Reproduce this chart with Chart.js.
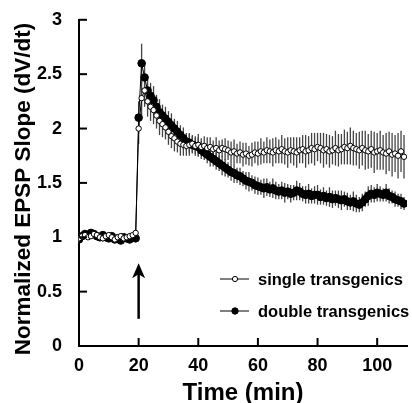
<!DOCTYPE html>
<html lang="en">

<head>
    <meta charset="UTF-8">
    <title>EPSP Slope</title>
    <script src="https://cdn.jsdelivr.net/npm/chart.js"></script>
    <style>
        body { margin: 0; background: #fff; }
        #grafico { display: block; }
    </style>
</head>

<body>
    <canvas id="grafico" width="412" height="403"></canvas>
</body>

</html>

<script>

    // tempo (min)
    var tempos = [
        0, 1, 2, 3, 4, 5, 6, 7, 8, 9,
        10, 11, 12, 13, 14, 15, 16, 17, 18, 19,
        20, 21, 22, 23, 24, 25, 26, 27, 28, 29,
        30, 31, 32, 33, 34, 35, 36, 37, 38, 39,
        40, 41, 42, 43, 44, 45, 46, 47, 48, 49,
        50, 51, 52, 53, 54, 55, 56, 57, 58, 59,
        60, 61, 62, 63, 64, 65, 66, 67, 68, 69,
        70, 71, 72, 73, 74, 75, 76, 77, 78, 79,
        80, 81, 82, 83, 84, 85, 86, 87, 88, 89,
        90, 91, 92, 93, 94, 95, 96, 97, 98, 99,
        100, 101, 102, 103, 104, 105, 106, 107, 108, 109
    ];

    // single transgenics
    var single = [
        0.99, 1.01, 1.02, 1.00, 1.01, 1.03, 1.02, 1.00, 0.99, 1.01,
        1.02, 1.00, 0.98, 1.00, 1.01, 0.99, 1.00, 1.01, 1.02, 1.04,
        2.00, 2.28, 2.35, 2.25, 2.20, 2.17, 2.12, 2.07, 2.04, 2.01,
        1.97, 1.93, 1.91, 1.88, 1.86, 1.85, 1.84, 1.85, 1.86, 1.84,
        1.85, 1.83, 1.84, 1.82, 1.83, 1.81, 1.82, 1.80, 1.82, 1.81,
        1.80, 1.78, 1.79, 1.77, 1.78, 1.76, 1.77, 1.75, 1.76, 1.78,
        1.77, 1.79, 1.78, 1.80, 1.79, 1.78, 1.80, 1.79, 1.81, 1.79,
        1.78, 1.80, 1.79, 1.78, 1.80, 1.81, 1.79, 1.80, 1.82, 1.81,
        1.83, 1.82, 1.80, 1.81, 1.79, 1.80, 1.82, 1.80, 1.81, 1.83,
        1.82, 1.84, 1.82, 1.81, 1.80, 1.82, 1.80, 1.79, 1.81, 1.78,
        1.79, 1.80, 1.78, 1.77, 1.79, 1.76, 1.77, 1.75, 1.79, 1.74
    ];
    var singleErro = [
        0.02, 0.02, 0.03, 0.02, 0.02, 0.03, 0.02, 0.02, 0.03, 0.02,
        0.02, 0.03, 0.02, 0.02, 0.03, 0.02, 0.02, 0.03, 0.02, 0.03,
        0.14, 0.16, 0.15, 0.14, 0.13, 0.13, 0.12, 0.13, 0.12, 0.11,
        0.12, 0.11, 0.12, 0.10, 0.11, 0.10, 0.09, 0.10, 0.08, 0.09,
        0.10, 0.08, 0.09, 0.10, 0.09, 0.08, 0.10, 0.09, 0.08, 0.10,
        0.09, 0.10, 0.11, 0.09, 0.10, 0.11, 0.10, 0.09, 0.11, 0.10,
        0.11, 0.12, 0.10, 0.12, 0.11, 0.13, 0.12, 0.11, 0.13, 0.12,
        0.14, 0.12, 0.13, 0.14, 0.12, 0.13, 0.15, 0.13, 0.14, 0.15,
        0.13, 0.14, 0.16, 0.14, 0.15, 0.13, 0.16, 0.15, 0.14, 0.16,
        0.15, 0.17, 0.16, 0.15, 0.17, 0.16, 0.18, 0.16, 0.17, 0.19,
        0.17, 0.18, 0.16, 0.19, 0.18, 0.20, 0.17, 0.21, 0.19, 0.20
    ];

    // double transgenics
    var double = [
        0.98, 1.01, 1.03, 1.02, 1.04, 1.03, 1.01, 1.00, 1.02, 1.00,
        0.99, 1.01, 0.98, 0.99, 0.97, 1.00, 0.99, 0.98, 1.00, 0.99,
        2.10, 2.60, 2.47, 2.35, 2.30, 2.26, 2.20, 2.15, 2.12, 2.09,
        2.06, 2.03, 2.00, 1.97, 1.94, 1.91, 1.88, 1.87, 1.85, 1.84,
        1.83, 1.80, 1.78, 1.76, 1.74, 1.72, 1.70, 1.68, 1.66, 1.64,
        1.62, 1.60, 1.59, 1.57, 1.56, 1.54, 1.52, 1.51, 1.50, 1.48,
        1.47, 1.46, 1.45, 1.46, 1.44, 1.45, 1.43, 1.42, 1.43, 1.41,
        1.42, 1.40, 1.41, 1.43, 1.42, 1.40, 1.39, 1.40, 1.38, 1.39,
        1.39, 1.37, 1.38, 1.36, 1.37, 1.35, 1.36, 1.35, 1.34, 1.35,
        1.33, 1.32, 1.33, 1.31, 1.30, 1.32, 1.35, 1.38, 1.40, 1.39,
        1.41, 1.40, 1.39, 1.41, 1.38, 1.37, 1.35, 1.34, 1.33, 1.31
    ];
    var doubleErro = [
        0.03, 0.02, 0.03, 0.03, 0.02, 0.03, 0.02, 0.03, 0.02, 0.03,
        0.02, 0.03, 0.03, 0.02, 0.03, 0.02, 0.03, 0.03, 0.02, 0.03,
        0.15, 0.18, 0.14, 0.13, 0.12, 0.13, 0.11, 0.12, 0.10, 0.11,
        0.10, 0.11, 0.09, 0.10, 0.09, 0.10, 0.08, 0.09, 0.08, 0.07,
        0.09, 0.08, 0.07, 0.08, 0.09, 0.07, 0.08, 0.07, 0.09, 0.08,
        0.07, 0.08, 0.09, 0.07, 0.08, 0.07, 0.08, 0.09, 0.07, 0.08,
        0.08, 0.07, 0.09, 0.08, 0.07, 0.09, 0.08, 0.07, 0.08, 0.09,
        0.07, 0.08, 0.07, 0.09, 0.08, 0.07, 0.08, 0.09, 0.07, 0.08,
        0.09, 0.07, 0.08, 0.07, 0.09, 0.08, 0.07, 0.08, 0.09, 0.07,
        0.08, 0.07, 0.09, 0.08, 0.07, 0.08, 0.07, 0.09, 0.08, 0.07,
        0.08, 0.07, 0.06, 0.08, 0.07, 0.06, 0.07, 0.06, 0.07, 0.06
    ];

    var xTicks = [0, 20, 40, 60, 80, 100];
    var yTicks = [0, 0.5, 1, 1.5, 2, 2.5, 3];

    // seta do estimulo (tempo, inicio, fim)
    var setaTempo = 20;
    var setaDe = 0.25;
    var setaAte = 0.76;

    var nomes = ['single transgenics', 'double transgenics'];
    var tituloX = 'Time (min)';
    var tituloY = 'Normalized EPSP Slope (dV/dt)';

    var fonte = "'Liberation Sans', Arial, sans-serif";
    Chart.defaults.font.family = fonte;
    Chart.defaults.color = '#000';

    function pontos(valores) {
        return tempos.map(function (t, i) { return { x: t, y: valores[i] }; });
    }

    // barras de erro, atras dos pontos
    const barrasErro = {
        id: 'barrasErro',
        beforeDatasetsDraw(chart) {
            const ctx = chart.ctx;
            const y = chart.scales.y;
            const erros = [singleErro, doubleErro];
            ctx.save();
            ctx.strokeStyle = '#444';
            ctx.lineWidth = 1.3;
            chart.data.datasets.forEach(function (ds, d) {
                const meta = chart.getDatasetMeta(d);
                meta.data.forEach(function (p, i) {
                    const v = ds.data[i].y;
                    ctx.beginPath();
                    ctx.moveTo(p.x, y.getPixelForValue(v - erros[d][i]));
                    ctx.lineTo(p.x, y.getPixelForValue(v + erros[d][i]));
                    ctx.stroke();
                });
            });
            ctx.restore();
        }
    };

    // ticks para dentro, titulos, seta e legenda
    const extras = {
        id: 'extras',
        afterDraw(chart) {
            const ctx = chart.ctx;
            const x = chart.scales.x;
            const y = chart.scales.y;
            const area = chart.chartArea;
            ctx.save();
            ctx.strokeStyle = '#000';
            ctx.fillStyle = '#000';
            ctx.lineWidth = 2;
            xTicks.forEach(function (v) {
                const px = x.getPixelForValue(v);
                ctx.beginPath();
                ctx.moveTo(px, area.bottom);
                ctx.lineTo(px, area.bottom - 8);
                ctx.stroke();
            });
            yTicks.forEach(function (v) {
                const py = y.getPixelForValue(v);
                ctx.beginPath();
                ctx.moveTo(area.left, py);
                ctx.lineTo(area.left + 8, py);
                ctx.stroke();
            });

            // titulos dos eixos
            ctx.textAlign = 'center';
            ctx.textBaseline = 'alphabetic';
            ctx.font = 'bold 24px ' + fonte;
            ctx.fillText(tituloX, (area.left + area.right) / 2, 400);
            ctx.save();
            ctx.translate(30, 189);
            ctx.rotate(-Math.PI / 2);
            ctx.font = 'bold 22.5px ' + fonte;
            ctx.fillText(tituloY, 0, 0);
            ctx.restore();

            // seta
            const sx = x.getPixelForValue(setaTempo);
            const sTopo = y.getPixelForValue(setaAte);
            const sBase = y.getPixelForValue(setaDe);
            ctx.lineWidth = 2.5;
            ctx.beginPath();
            ctx.moveTo(sx, sBase);
            ctx.lineTo(sx, sTopo + 10);
            ctx.stroke();
            ctx.beginPath();
            ctx.moveTo(sx, sTopo);
            ctx.lineTo(sx - 6.5, sTopo + 15);
            ctx.lineTo(sx, sTopo + 11);
            ctx.lineTo(sx + 6.5, sTopo + 15);
            ctx.closePath();
            ctx.fill();

            // legenda
            const linhas = [279, 311];
            ctx.font = 'bold 16.5px ' + fonte;
            ctx.textAlign = 'left';
            ctx.textBaseline = 'middle';
            linhas.forEach(function (ly, i) {
                ctx.lineWidth = 1;
                ctx.beginPath();
                ctx.moveTo(220, ly);
                ctx.lineTo(249, ly);
                ctx.stroke();
                ctx.beginPath();
                ctx.arc(235, ly, i == 0 ? 2.6 : 3.2, 0, Math.PI * 2);
                ctx.fillStyle = i == 0 ? '#fff' : '#000';
                ctx.fill();
                ctx.stroke();
                ctx.fillStyle = '#000';
                ctx.fillText(nomes[i], 258, ly + 1);
            });
            ctx.restore();
        }
    };

    const config = {
        type: 'line',
        data: {
            datasets: [{
                label: nomes[0],
                data: pontos(single),
                borderColor: '#000',
                borderWidth: 1,
                pointRadius: 2.7,
                pointBackgroundColor: '#fff',
                pointBorderColor: '#000',
                pointBorderWidth: 1,
                tension: 0
            }, {
                label: nomes[1],
                data: pontos(double),
                borderColor: '#000',
                borderWidth: 1,
                pointRadius: 3.8,
                pointBackgroundColor: '#000',
                pointBorderColor: '#000',
                pointBorderWidth: 1,
                tension: 0
            }]
        },
        options: {
            responsive: false,
            animation: false,
            layout: { padding: { top: 19, right: 3, left: 0, bottom: 0 } },
            plugins: {
                legend: { display: false },
                tooltip: { enabled: false }
            },
            scales: {
                x: {
                    type: 'linear',
                    min: 0,
                    max: 110,
                    afterBuildTicks: function (s) { s.ticks = xTicks.map(function (v) { return { value: v }; }); },
                    afterFit: function (s) { s.height = 57; },
                    grid: { display: false },
                    border: { display: true, color: '#000', width: 2 },
                    ticks: { padding: 1, font: { size: 18, weight: 'bold' } }
                },
                y: {
                    min: 0,
                    max: 3,
                    afterBuildTicks: function (s) { s.ticks = yTicks.map(function (v) { return { value: v }; }); },
                    afterFit: function (s) { s.width = 79; },
                    grid: { display: false },
                    border: { display: true, color: '#000', width: 2 },
                    ticks: {
                        padding: 9,
                        font: { size: 18, weight: 'bold' },
                        callback: function (v) { return String(v); }
                    }
                }
            }
        },
        plugins: [barrasErro, extras]
    };

    let grafico = new Chart(document.getElementById('grafico'), config);

</script>
